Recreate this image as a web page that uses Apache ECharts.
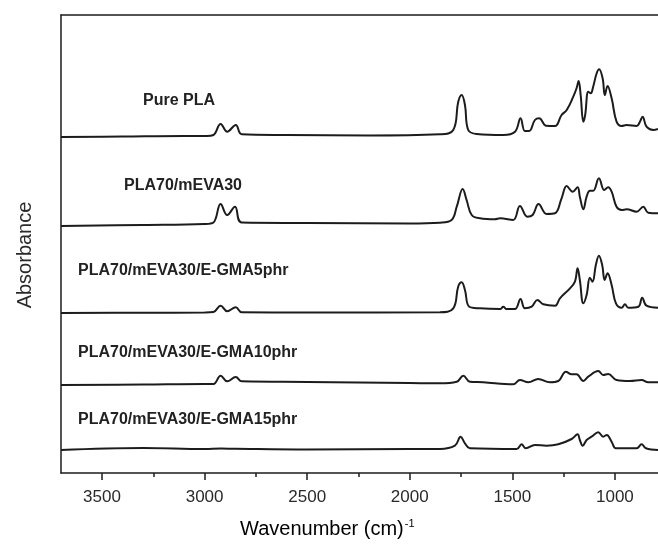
<!DOCTYPE html>
<html>
<head>
<meta charset="utf-8">
<script src="https://cdn.jsdelivr.net/npm/echarts@6/dist/echarts.min.js"></script>
<style>
  html, body { margin: 0; padding: 0; background: #fff; }
  #chart { width: 658px; height: 546px; }
</style>
</head>
<body>
<div id="chart"></div>
<script>
// FTIR spectra of PLA blends, stacked with vertical offsets (arbitrary absorbance units)
const sampleNames = [
  'Pure PLA',
  'PLA70/mEVA30',
  'PLA70/mEVA30/E-GMA5phr',
  'PLA70/mEVA30/E-GMA10phr',
  'PLA70/mEVA30/E-GMA15phr'
];

// vertical offset of each trace
const traceOffsets = [3.36, 2.47, 1.60, 0.88, 0.23];

// [wavenumber (cm-1), absorbance above the trace baseline]
const purePLA = [
  [3700, 0], [3400, 0.005], [3100, 0.01], [2990, 0.01], [2957, 0.02], [2922, 0.13], [2890, 0.053],
  [2848, 0.12], [2819, 0.027], [2600, 0.02], [2200, 0.015], [1853, 0.027], [1788, 0.07], [1764, 0.35],
  [1747, 0.42], [1731, 0.32], [1715, 0.07], [1674, 0.03], [1544, 0.02], [1487, 0.053], [1460, 0.187],
  [1439, 0.06], [1418, 0.06], [1390, 0.17], [1369, 0.187], [1336, 0.113], [1292, 0.11], [1260, 0.22],
  [1235, 0.27], [1203, 0.403], [1187, 0.487], [1177, 0.56], [1167, 0.42], [1154, 0.153], [1145, 0.22],
  [1130, 0.453], [1118, 0.437], [1106, 0.503], [1089, 0.637], [1077, 0.677], [1060, 0.587], [1049, 0.42],
  [1036, 0.51], [1016, 0.387], [992, 0.153], [967, 0.11], [943, 0.12], [894, 0.11], [878, 0.153],
  [865, 0.203], [846, 0.103], [813, 0.07], [790, 0.08]
];

const pla70mEva30 = [
  [3700, 0], [3300, 0.01], [3000, 0.02], [2957, 0.035], [2922, 0.22], [2890, 0.11], [2852, 0.193],
  [2819, 0.035], [2500, 0.03], [2000, 0.025], [1853, 0.033], [1796, 0.06], [1771, 0.193], [1742, 0.37],
  [1723, 0.26], [1698, 0.11], [1658, 0.077], [1585, 0.067], [1560, 0.077], [1496, 0.06], [1463, 0.2],
  [1427, 0.093], [1401, 0.11], [1372, 0.22], [1333, 0.12], [1292, 0.127], [1260, 0.277], [1235, 0.4],
  [1206, 0.343], [1182, 0.387], [1171, 0.293], [1154, 0.167], [1138, 0.293], [1122, 0.353], [1106, 0.353],
  [1078, 0.477], [1052, 0.36], [1033, 0.387], [1016, 0.343], [992, 0.193], [967, 0.16], [943, 0.167],
  [894, 0.143], [862, 0.193], [838, 0.133], [790, 0.127]
];

const gma5 = [
  [3700, 0], [3300, 0.003], [3000, 0.005], [2957, 0.01], [2922, 0.073], [2890, 0.017], [2848, 0.057],
  [2819, 0.007], [2500, 0.005], [1853, 0.007], [1788, 0.047], [1764, 0.263], [1747, 0.307], [1731, 0.23],
  [1710, 0.063], [1658, 0.047], [1560, 0.04], [1544, 0.063], [1528, 0.04], [1487, 0.04], [1460, 0.14],
  [1439, 0.047], [1406, 0.063], [1378, 0.13], [1349, 0.087], [1292, 0.073], [1268, 0.147], [1219, 0.247],
  [1195, 0.313], [1182, 0.447], [1171, 0.33], [1154, 0.097], [1138, 0.18], [1122, 0.353], [1109, 0.313],
  [1093, 0.48], [1078, 0.573], [1062, 0.48], [1050, 0.33], [1036, 0.397], [1016, 0.28], [995, 0.097],
  [967, 0.053], [951, 0.087], [935, 0.053], [886, 0.063], [867, 0.153], [846, 0.073], [790, 0.053]
];

const gma10 = [
  [3700, 0], [3300, 0.005], [3000, 0.01], [2957, 0.01], [2922, 0.093], [2890, 0.037], [2848, 0.08],
  [2819, 0.037], [2500, 0.03], [2000, 0.02], [1853, 0.017], [1771, 0.033], [1739, 0.093], [1707, 0.033],
  [1642, 0.027], [1496, 0.007], [1463, 0.05], [1422, 0.027], [1374, 0.06], [1317, 0.027], [1276, 0.04],
  [1239, 0.133], [1211, 0.107], [1187, 0.107], [1154, 0.04], [1130, 0.083], [1081, 0.14], [1057, 0.1],
  [1033, 0.11], [992, 0.05], [927, 0.04], [870, 0.05], [838, 0.027], [790, 0.027]
];

const gma15 = [
  [3700, 0], [3300, 0.02], [3000, 0.01], [2920, 0.015], [2850, 0.012], [2500, 0.005], [2000, 0.01],
  [1853, 0.01], [1780, 0.043], [1752, 0.133], [1731, 0.067], [1707, 0.017], [1479, 0.01], [1455, 0.057],
  [1434, 0.017], [1390, 0.05], [1333, 0.043], [1276, 0.057], [1211, 0.11], [1182, 0.157], [1171, 0.1],
  [1157, 0.043], [1138, 0.1], [1114, 0.133], [1081, 0.177], [1057, 0.133], [1040, 0.15], [1016, 0.083],
  [995, 0.017], [894, 0.017], [870, 0.057], [849, 0.017], [790, 0]
];

const spectra = [purePLA, pla70mEva30, gma5, gma10, gma15];

// axis tick labels
const majorTicks = [1000, 1500, 2000, 2500, 3000, 3500];
const minorTicks = [1250, 1750, 2250, 2750, 3250];

// label placement (pixel positions of each sample name)
const labelPos = [[143, 102], [124, 187], [78, 272], [78, 354], [78, 421]];

const chart = echarts.init(document.getElementById('chart'), null, { renderer: 'canvas' });

const ink = '#1c1c1c';
const font = 'Arial, "Liberation Sans", Helvetica, sans-serif';

const series = spectra.map((pts, i) => ({
  name: sampleNames[i],
  type: 'line',
  xAxisIndex: 0,
  data: pts.map(p => [p[0], p[1] + traceOffsets[i]]),
  showSymbol: false,
  smooth: 0.4,
  lineStyle: { color: ink, width: 2 },
  silent: true,
  animation: false
}));

// wavenumber axis runs from high (left) to low (right); right end is open
const xBase = {
  type: 'value',
  min: 790,
  max: 3700,
  inverse: true,
  splitLine: { show: false },
  gridIndex: 0
};

chart.setOption({
  backgroundColor: '#ffffff',
  animation: false,
  grid: { left: 61, right: 0, top: 15, bottom: 73, show: false },
  xAxis: [
    Object.assign({}, xBase, {
      position: 'bottom',
      axisLine: { show: true, lineStyle: { color: ink, width: 1.5 } },
      axisTick: { show: true, inside: false, length: 7, customValues: majorTicks, lineStyle: { color: ink, width: 1.5 } },
      axisLabel: {
        show: true, customValues: majorTicks, margin: 16, fontSize: 17, color: '#2a2a2a', fontFamily: font,
        formatter: v => String(v)
      }
    }),
    Object.assign({}, xBase, {
      position: 'bottom',
      axisLine: { show: false },
      axisTick: { show: true, inside: false, length: 4, customValues: minorTicks, lineStyle: { color: ink, width: 1.5 } },
      axisLabel: { show: false }
    }),
    Object.assign({}, xBase, {
      position: 'top',
      axisLine: { show: true, lineStyle: { color: ink, width: 1.5 } },
      axisTick: { show: false },
      axisLabel: { show: false }
    })
  ],
  yAxis: {
    type: 'value',
    min: 0,
    max: 4.58,
    axisLine: { show: true, lineStyle: { color: ink, width: 1.5 } },
    axisTick: { show: false },
    axisLabel: { show: false },
    splitLine: { show: false }
  },
  series: series,
  graphic: [
    ...sampleNames.map((name, i) => ({
      type: 'text',
      left: labelPos[i][0],
      top: labelPos[i][1] - 9,
      silent: true,
      style: {
        text: name,
        font: 'bold 16px ' + font,
        fill: '#222',
        textVerticalAlign: 'top'
      }
    })),
    {
      type: 'text',
      left: 240,
      top: 518,
      silent: true,
      style: {
        text: '{a|Wavenumber (cm)}{s|-1}',
        rich: {
          a: { fontSize: 20, fontFamily: font, color: '#2a2a2a' },
          s: { fontSize: 11, fontFamily: font, color: '#2a2a2a', verticalAlign: 'top', padding: [0, 0, 12, 1] }
        }
      }
    },
    {
      type: 'text',
      x: 25,
      y: 255,
      rotation: Math.PI / 2,
      silent: true,
      style: {
        text: 'Absorbance',
        font: '20px ' + font,
        fill: '#2a2a2a',
        textAlign: 'center',
        textVerticalAlign: 'middle'
      }
    }
  ]
});
</script>
</body>
</html>
